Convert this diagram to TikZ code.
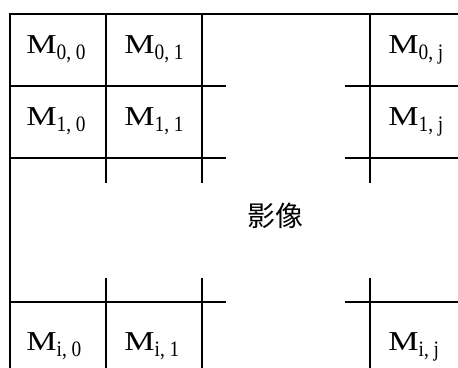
\documentclass[tikz,border=0pt]{standalone}
\usepackage{fontspec}
\usepackage{graphicx}
\setmainfont{Liberation Serif}
\newfontfamily\cjk{Noto Sans CJK TC}
\newcommand\MLab[2]{\scalebox{1.25}[1]{M}\raisebox{-4.5pt}{\fontsize{16.5}{17}\selectfont\scalebox{0.88}[1]{#1, #2}}}
\tikzset{
  lab/.style={anchor=base west, inner sep=0pt, font=\fontsize{20.5}{21}\selectfont},
  gridline/.style={line width=1.5pt},
}
\begin{document}
\begin{tikzpicture}[x=0.75pt,y=-0.75pt]
\useasboundingbox (0,0) rectangle (458,368);
% outer frame (cropped at right and bottom)
\draw[gridline] (9.5,368) -- (9.5,14) -- (458,14);
% horizontal grid lines
\foreach \y in {86,158,302}{
  \draw[gridline] (9.5,\y) -- (226,\y);
  \draw[gridline] (345,\y) -- (458,\y);
}
% vertical grid lines
\foreach \x in {106,202,370}{
  \draw[gridline] (\x,14) -- (\x,183);
  \draw[gridline] (\x,278) -- (\x,368);
}
% labels
\node[lab] (m00) at (26,53) {\MLab{0}{0}};
\node[lab] (m01) at (124,53) {\MLab{0}{1}};
\node[lab] (m0j) at (388,53) {\MLab{0}{j}};
\node[lab] (m10) at (26,125) {\MLab{1}{0}};
\node[lab] (m11) at (124,125) {\MLab{1}{1}};
\node[lab] (m1j) at (388,125) {\MLab{1}{j}};
\node[lab] (mi0) at (26,350) {\MLab{i}{0}};
\node[lab] (mi1) at (124,350) {\MLab{i}{1}};
\node[lab] (mij) at (388,350) {\MLab{i}{j}};
\node[font=\cjk\fontsize{21}{21}\selectfont, inner sep=0pt] (img) at (275,216) {影像};
\end{tikzpicture}
\end{document}
